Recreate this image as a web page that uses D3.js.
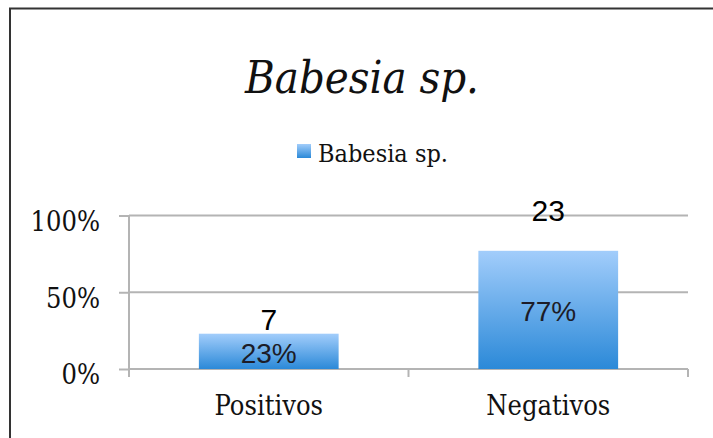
<!DOCTYPE html>
<html>
<head>
<meta charset="utf-8">
<script src="https://cdn.jsdelivr.net/npm/d3@7"></script>
<style>
  body { margin: 0; background: #fff; }
  svg { display: block; }
</style>
</head>
<body>
<script>
'use strict';

// chart data
const categories = ["Positivos", "Negativos"];
const shares = [0.23, 0.77];      // share of samples
const counts = [7, 23];           // number of samples
const shareLabels = ["23%", "77%"];
const yTicks = [0, 0.5, 1];
const yTickLabels = ["0%", "50%", "100%"];
const seriesName = "Babesia sp.";

// how far above the bar top the count label sits (as in the original)
const countLift = [4, 30];

const width = 713, height = 438;
const serif = "'DejaVu Serif Condensed', 'DejaVu Serif', serif";
const sans = "'Liberation Sans', Arial, sans-serif";

const svg = d3.select("body").append("svg")
  .attr("width", width)
  .attr("height", height);

// gradient for the bars
const defs = svg.append("defs");
const grad = defs.append("linearGradient")
  .attr("id", "barGrad")
  .attr("x1", 0).attr("y1", 0).attr("x2", 0).attr("y2", 1);
grad.append("stop").attr("offset", "0%").attr("stop-color", "#a2cdfb");
grad.append("stop").attr("offset", "100%").attr("stop-color", "#2b89d8");

// outer frame
svg.append("rect")
  .attr("x", 10).attr("y", 8.5)
  .attr("width", 710).attr("height", 440)
  .attr("fill", "none")
  .attr("stroke", "#333")
  .attr("stroke-width", 2);

// title
svg.append("text")
  .attr("x", 362).attr("y", 93)
  .attr("text-anchor", "middle")
  .style("font-family", serif)
  .style("font-style", "italic")
  .style("font-size", "45px")
  .attr("fill", "#111")
  .text(seriesName);

// legend
svg.append("rect")
  .attr("x", 297).attr("y", 144)
  .attr("width", 14).attr("height", 14)
  .attr("fill", "url(#barGrad)");
svg.append("text")
  .attr("x", 318).attr("y", 162)
  .style("font-family", serif)
  .style("font-size", "25px")
  .attr("fill", "#111")
  .text(seriesName);

// scales
const x = d3.scaleBand()
  .domain(categories)
  .range([129, 688]);

const y = d3.scaleLinear()
  .domain([0, 1])
  .range([369, 215.5]);

const gridColor = "#b4b4b4";

// horizontal gridlines
svg.append("g")
  .selectAll("line")
  .data(yTicks)
  .enter()
  .append("line")
  .attr("x1", 129).attr("x2", 688)
  .attr("y1", d => y(d)).attr("y2", d => y(d))
  .attr("stroke", gridColor)
  .attr("stroke-width", 2);

// y axis with tick labels
const yAxis = d3.axisLeft(y)
  .tickValues(yTicks)
  .tickFormat((d, i) => yTickLabels[i])
  .tickSizeInner(10)
  .tickSizeOuter(0)
  .tickPadding(19);
const gy = svg.append("g")
  .attr("transform", "translate(129,0)")
  .call(yAxis);
gy.select(".domain").remove();
gy.selectAll(".tick line").attr("stroke", gridColor).attr("stroke-width", 2);
gy.selectAll(".tick text")
  .attr("dy", "0.55em")
  .style("font-family", serif)
  .style("font-size", "27px")
  .attr("fill", "#111");
svg.append("line")
  .attr("x1", 129).attr("x2", 129)
  .attr("y1", y(1)).attr("y2", y(0) + 8)
  .attr("stroke", gridColor)
  .attr("stroke-width", 2);

// x axis boundary ticks
const edges = categories.map(c => x(c)).concat([x(categories[categories.length - 1]) + x.bandwidth()]);
svg.append("g")
  .selectAll("line")
  .data(edges)
  .enter()
  .append("line")
  .attr("x1", d => d).attr("x2", d => d)
  .attr("y1", y(0)).attr("y2", y(0) + 8)
  .attr("stroke", gridColor)
  .attr("stroke-width", 2);

// category labels
const xAxis = d3.axisBottom(x).tickSize(0).tickPadding(0);
const gx = svg.append("g")
  .attr("transform", "translate(0,415)")
  .call(xAxis);
gx.select(".domain").remove();
gx.selectAll(".tick text")
  .attr("dy", 0)
  .attr("y", 0)
  .style("font-family", serif)
  .style("font-size", "27px")
  .attr("fill", "#111");

// bars
const barW = x.bandwidth() / 2;
svg.append("g")
  .selectAll("rect")
  .data(categories)
  .enter()
  .append("rect")
  .attr("x", d => x(d) + x.bandwidth() / 2 - barW / 2)
  .attr("y", (d, i) => y(shares[i]))
  .attr("width", barW)
  .attr("height", (d, i) => y(0) - y(shares[i]))
  .attr("fill", "url(#barGrad)");

// share labels inside bars
svg.append("g")
  .selectAll("text")
  .data(categories)
  .enter()
  .append("text")
  .attr("x", d => x(d) + x.bandwidth() / 2)
  .attr("y", (d, i) => (y(shares[i]) + y(0)) / 2 + 2)
  .attr("text-anchor", "middle")
  .attr("dominant-baseline", "central")
  .style("font-family", sans)
  .style("font-size", "28px")
  .attr("fill", "#1c1c28")
  .text((d, i) => shareLabels[i]);

// count labels above bars
svg.append("g")
  .selectAll("text")
  .data(categories)
  .enter()
  .append("text")
  .attr("x", d => x(d) + x.bandwidth() / 2)
  .attr("y", (d, i) => y(shares[i]) - countLift[i])
  .attr("text-anchor", "middle")
  .style("font-family", sans)
  .style("font-size", "30px")
  .attr("fill", "#000")
  .text((d, i) => counts[i]);
</script>
</body>
</html>
